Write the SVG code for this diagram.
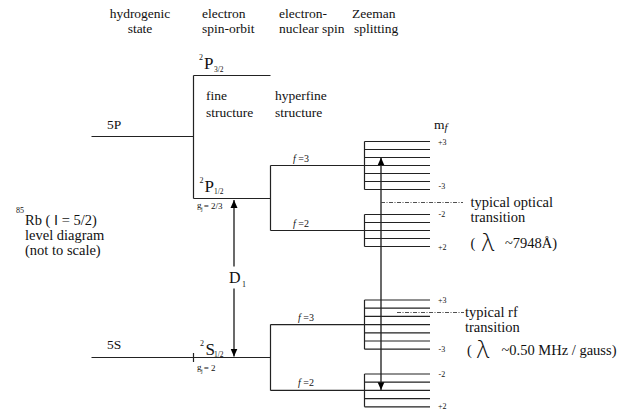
<svg xmlns="http://www.w3.org/2000/svg" width="628" height="411" viewBox="0 0 628 411">
<defs>
<style>
.h{font-size:13.5px}
.L{font-size:14.5px}
.big{font-size:17px}
.sup{font-size:8px}
.sub{font-size:7.5px}
.sm{font-size:9px}
.f{font-size:10px}
.m{font-size:8px}
.lam{font-family:"Open Sans","Lato","Liberation Sans",sans-serif;font-size:24px;font-weight:300}
.ln{stroke:#222;stroke-width:1.2;fill:none}
.zl{stroke:#222;stroke-width:1.2;fill:none}
.dd{stroke:#222;stroke-width:0.8;stroke-dasharray:4 1.5 1 1.5;fill:none}
.ar{stroke:#444;stroke-width:1.6;fill:none}
</style>
<marker id="ah" viewBox="0 0 8 10" refX="8" refY="5" markerWidth="8" markerHeight="10" markerUnits="userSpaceOnUse" orient="auto-start-reverse">
<path d="M0,1.5 L8,5 L0,8.5 Z" fill="#000"/>
</marker>
</defs>
<rect width="628" height="411" fill="#fff"/>

<g id="connectors">
<path class="ln" d="M91.5,136.5 H193.5 M193.5,75.5 V198.5 M193.5,75.5 H270.5 M193.5,198.5 H270.5 M270.5,165.5 V230.5 M270.5,165.5 H364.5 M270.5,230.5 H364.5"/>
<path class="ln" d="M91.5,357.5 H270.5 M193.5,353 V362 M270.5,324.6 V390.4 M270.5,324.6 H364.5 M270.5,390.4 H364.5"/>
<path class="dd" d="M381,202.5 H463"/>
<path class="dd" d="M397,312.5 H464"/>
<path class="ar" d="M234,266.5 V200" marker-end="url(#ah)"/>
<path class="ar" d="M234,288.5 V356.5" marker-end="url(#ah)"/>
<path class="ar" d="M381,265 V157.5" marker-end="url(#ah)"/>
<path class="ar" d="M381,265 V390" marker-end="url(#ah)"/>
</g>

<g font-family="'Liberation Serif', 'Times New Roman', serif" fill="#111">
<g id="headers" class="h">
<text x="140" y="18" text-anchor="middle">hydrogenic</text>
<text x="140" y="33" text-anchor="middle">state</text>
<text x="202" y="18">electron</text>
<text x="202" y="33">spin-orbit</text>
<text x="279" y="18">electron-</text>
<text x="279" y="33">nuclear spin</text>
<text x="352" y="18">Zeeman</text>
<text x="354" y="33">splitting</text>
</g>

<g id="state-5P">
<text class="h" x="107" y="129">5P</text>
</g>
<g id="state-5S">
<text class="h" x="107" y="349">5S</text>
</g>

<g id="P32">
<text class="sup" x="199" y="60">2</text>
<text class="big" x="204" y="68.5">P</text>
<text class="sub" x="214" y="72">3/2</text>
</g>
<g id="P12">
<text class="sup" x="199.5" y="183">2</text>
<text class="big" x="204.5" y="191.5">P</text>
<text class="sub" x="214" y="194">1/2</text>
<text class="sm" x="197" y="208">g<tspan style="font-size:6px" dx="-0.5" dy="2.5">j</tspan><tspan dx="1" dy="-1.5">= 2/3</tspan></text>
</g>
<g id="S12">
<text class="sup" x="200" y="346">2</text>
<text class="big" x="205.5" y="354.5">S</text>
<text class="sub" x="214" y="357">1/2</text>
<text class="sm" x="197" y="370">g<tspan style="font-size:6px" dx="-0.5" dy="2.5">j</tspan><tspan dx="1" dy="-1.5">= 2</tspan></text>
</g>
<g id="D1">
<text x="229" y="283" style="font-size:16px">D</text>
<text x="242" y="287" class="sup">1</text>
</g>

<g id="fine-label" class="h">
<text x="206" y="100">fine</text>
<text x="206" y="116.5">structure</text>
</g>
<g id="hyperfine-label" class="h">
<text x="275" y="100">hyperfine</text>
<text x="275" y="116.5">structure</text>
</g>

<g id="rb-label">
<text class="sup" x="16" y="213">85</text>
<text class="L" x="25" y="224.5">Rb ( <tspan font-family="'Liberation Sans', Arial, sans-serif">I</tspan> = 5/2)</text>
<text class="L" x="25" y="239.5">level diagram</text>
<text class="L" x="25" y="254.5">(not to scale)</text>
</g>

<g id="hf-P-f3">
<text class="f" x="293" y="161.5"><tspan font-style="italic">f</tspan> =3</text>
</g>
<g id="hf-P-f2">
<text class="f" x="293" y="226.5"><tspan font-style="italic">f</tspan> =2</text>
</g>
<g id="hf-S-f3">
<text class="f" x="298" y="320.5"><tspan font-style="italic">f</tspan> =3</text>
</g>
<g id="hf-S-f2">
<text class="f" x="298" y="386"><tspan font-style="italic">f</tspan> =2</text>
</g>

<g id="mf-label">
<text class="h" x="434" y="128.5">m<tspan font-style="italic" dy="2.5" style="font-size:11px">f</tspan></text>
</g>

<g id="zeeman-P-f3">
<path class="zl" d="M364.5,141.5 V189.5 M364.5,141.5 H430 M364.5,149.5 H430 M364.5,157.5 H430 M364.5,165.5 H430 M364.5,173.5 H430 M364.5,181.5 H430 M364.5,189.5 H430"/>
<text class="m" x="438" y="145">+3</text>
<text class="m" x="438.5" y="189">-3</text>
</g>
<g id="zeeman-P-f2">
<path class="zl" d="M364.5,214.5 V246.5 M364.5,214.5 H430 M364.5,222.5 H430 M364.5,230.5 H430 M364.5,238.5 H430 M364.5,246.5 H430"/>
<text class="m" x="438.5" y="217">-2</text>
<text class="m" x="438" y="250">+2</text>
</g>
<g id="zeeman-S-f3">
<path class="zl" d="M364.5,300 V349.2 M364.5,300 H430 M364.5,308.2 H430 M364.5,316.4 H430 M364.5,324.6 H430 M364.5,332.8 H430 M364.5,341 H430 M364.5,349.2 H430"/>
<text class="m" x="438" y="302.5">+3</text>
<text class="m" x="438.5" y="351.5">-3</text>
</g>
<g id="zeeman-S-f2">
<path class="zl" d="M364.5,374 V406.8 M364.5,374 H430 M364.5,382.2 H430 M364.5,390.4 H430 M364.5,398.6 H430 M364.5,406.8 H430"/>
<text class="m" x="438.5" y="377">-2</text>
<text class="m" x="438" y="408.5">+2</text>
</g>

<g id="optical-label" class="L">
<text x="470.5" y="206.5">typical optical</text>
<text x="470.5" y="221.5">transition</text>
<text x="470.5" y="248">(</text>
<text class="lam" x="482" y="251">λ</text>
<text x="505" y="248">~7948Å)</text>
</g>
<g id="rf-label" class="L">
<text x="465" y="316.5">typical rf</text>
<text x="465" y="331.5">transition</text>
<text x="467" y="355">(</text>
<text class="lam" x="477" y="358">λ</text>
<text x="501.5" y="355">~0.50 MHz / gauss)</text>
</g>
</g>
</svg>
